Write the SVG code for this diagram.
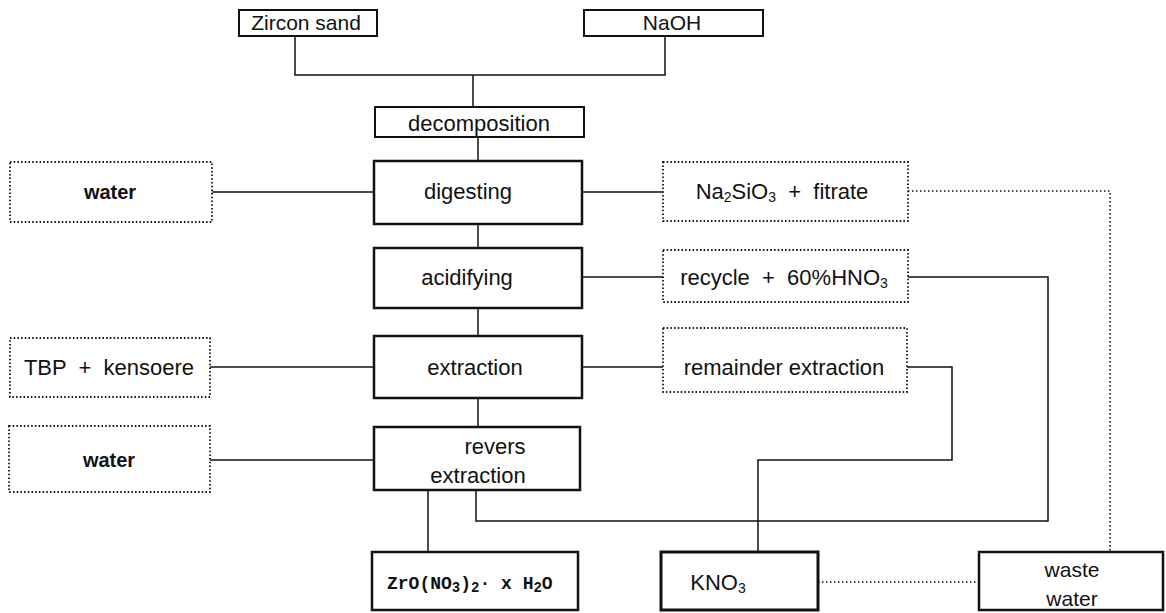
<svg xmlns="http://www.w3.org/2000/svg" width="1166" height="613" viewBox="0 0 1166 613">
<style>
.bg{fill:#fff}
.solid{fill:#fff;stroke:#111;stroke-width:2.5}
.thin{fill:#fff;stroke:#111;stroke-width:2}
.dot{fill:#fff;stroke:#111;stroke-width:1.8;stroke-dasharray:1.5 2.2}
.ln{fill:none;stroke:#111;stroke-width:1.5}
.dl{fill:none;stroke:#111;stroke-width:1.6;stroke-dasharray:1.5 2.5}
text{font-family:"Liberation Sans","DejaVu Sans",sans-serif;font-size:22px;fill:#111;text-anchor:middle}
.top{font-size:21px}
.b{font-weight:bold;font-size:20px}
.sub{font-size:14px}
.mono{font-family:"Liberation Mono","DejaVu Sans Mono",monospace;font-size:18px;font-weight:bold;text-anchor:start}
</style>
<rect class="bg" x="0" y="0" width="1166" height="613"/>
<g id="connectors">
<polyline class="ln" points="295,36 295,75 665,75 665,36"/>
<line class="ln" x1="473" y1="75" x2="473" y2="107"/>
<line class="ln" x1="478" y1="137" x2="478" y2="161"/>
<line class="ln" x1="478" y1="224" x2="478" y2="248"/>
<line class="ln" x1="478" y1="308" x2="478" y2="336"/>
<line class="ln" x1="478" y1="398" x2="478" y2="427"/>
<line class="ln" x1="212" y1="192" x2="374" y2="192"/>
<line class="ln" x1="582" y1="192" x2="663" y2="192"/>
<polyline class="dl" points="908,191 1110,191 1110,552"/>
<line class="ln" x1="582" y1="277" x2="663" y2="277"/>
<polyline class="ln" points="908,277 1048,277 1048,521 476,521 476,490"/>
<line class="ln" x1="210" y1="367" x2="374" y2="367"/>
<line class="ln" x1="582" y1="367" x2="663" y2="367"/>
<polyline class="ln" points="907,367 952,367 952,460 758,460 758,552"/>
<line class="ln" x1="210" y1="460" x2="374" y2="460"/>
<line class="ln" x1="428" y1="490" x2="428" y2="552"/>
<line class="dl" x1="818" y1="582" x2="979" y2="582"/>
</g>
<g id="zircon"><rect class="thin" x="239" y="10" width="138" height="26"/><text class="top" x="306" y="30">Zircon sand</text></g>
<g id="naoh"><rect class="thin" x="584" y="10" width="179" height="26"/><text class="top" x="672" y="30">NaOH</text></g>
<g id="decomposition"><rect class="thin" x="375" y="107" width="209" height="30"/><text x="479" y="131">decomposition</text></g>
<g id="water1"><rect class="dot" x="10" y="162" width="202" height="60"/><text class="b" x="110" y="199">water</text></g>
<g id="digesting"><rect class="solid" x="374" y="161" width="208" height="63"/><text x="468" y="199">digesting</text></g>
<g id="na2sio3"><rect class="dot" x="663" y="162" width="245" height="59"/><text x="782" y="199" xml:space="preserve">Na<tspan class="sub" dy="3">2</tspan><tspan dy="-3">SiO</tspan><tspan class="sub" dy="3">3</tspan><tspan dy="-3">  +  fitrate</tspan></text></g>
<g id="acidifying"><rect class="solid" x="374" y="248" width="208" height="60"/><text x="467" y="285">acidifying</text></g>
<g id="recycle"><rect class="dot" x="663" y="250" width="245" height="52"/><text x="784" y="285" xml:space="preserve">recycle  +  60%HNO<tspan class="sub" dy="3">3</tspan></text></g>
<g id="tbp"><rect class="dot" x="10" y="338" width="200" height="59"/><text x="109" y="375" xml:space="preserve">TBP  +  kensoere</text></g>
<g id="extraction"><rect class="solid" x="374" y="336" width="208" height="62"/><text x="475" y="375">extraction</text></g>
<g id="remainder"><rect class="dot" x="663" y="328" width="244" height="64"/><text x="784" y="375">remainder extraction</text></g>
<g id="water2"><rect class="dot" x="9" y="426" width="201" height="66"/><text class="b" x="109" y="467">water</text></g>
<g id="revers"><rect class="solid" x="374" y="427" width="206" height="63"/><text x="495" y="454">revers</text><text x="478" y="483">extraction</text></g>
<g id="zro"><rect class="solid" x="372" y="552" width="206" height="58"/><text class="mono" x="387" y="589">ZrO(NO<tspan class="sub" dy="3">3</tspan><tspan dy="-3">)</tspan><tspan class="sub" dy="3">2</tspan><tspan dy="-3">· x H</tspan><tspan class="sub" dy="3">2</tspan><tspan dy="-3">O</tspan></text></g>
<g id="kno3"><rect class="solid" x="661" y="552" width="157" height="58" style="stroke-width:3"/><text x="718" y="590">KNO<tspan class="sub" dy="3">3</tspan></text></g>
<g id="waste"><rect class="solid" x="979" y="552" width="184" height="58"/><text x="1072" y="577" style="font-size:21px">waste</text><text x="1072" y="606" style="font-size:21px">water</text></g>
</svg>
